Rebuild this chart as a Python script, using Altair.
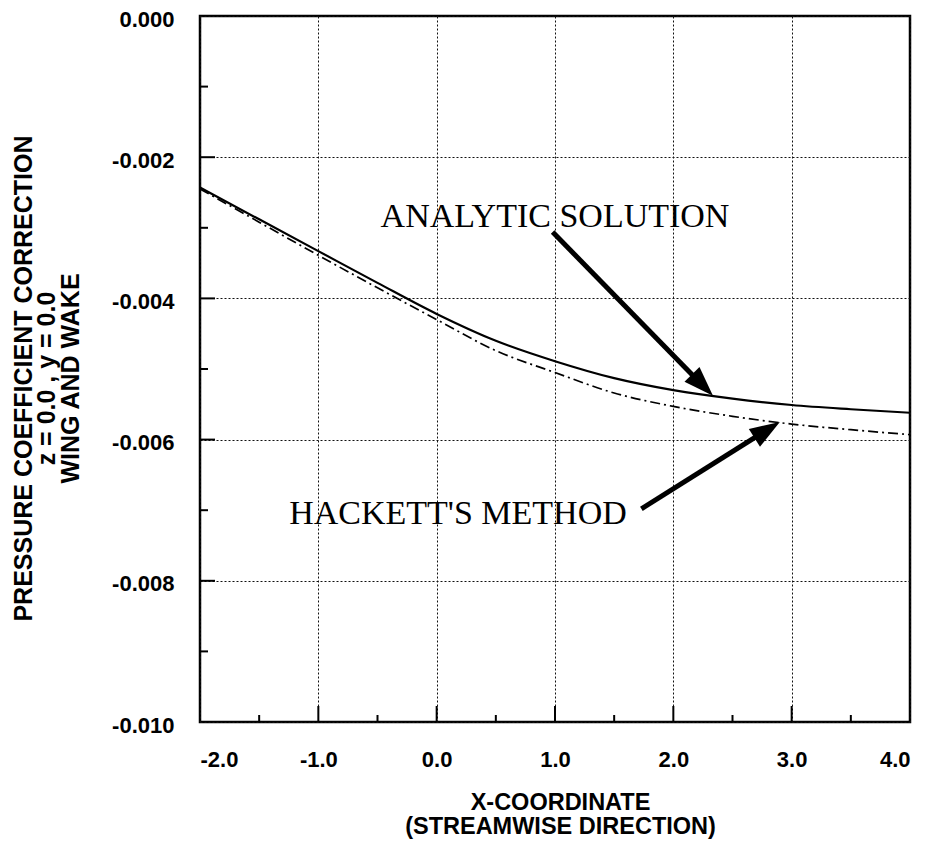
import altair as alt
import pandas as pd

# ---- data ----
x_vals = [-2.0, -1.5, -1.0, -0.5, 0.0, 0.5, 1.0, 1.5, 2.0, 2.5, 3.0, 3.5, 4.0]
analytic = [-0.00243, -0.00288, -0.00333, -0.00378, -0.00422, -0.00460, -0.00489,
            -0.00513, -0.00530, -0.00542, -0.00551, -0.00557, -0.00562]
hackett = [-0.00245, -0.00292, -0.00339, -0.00385, -0.00430, -0.00474, -0.00505,
           -0.00534, -0.00553, -0.00567, -0.00578, -0.00586, -0.00593]

x_major = [-2.0, -1.0, 0.0, 1.0, 2.0, 3.0, 4.0]
y_major = [0.0, -0.002, -0.004, -0.006, -0.008, -0.010]
x_tick_major = [-1.0, 0.0, 1.0, 2.0, 3.0]
x_tick_minor = [-1.5, -0.5, 0.5, 1.5, 2.5, 3.5]
y_tick_major = [-0.002, -0.004, -0.006, -0.008]
y_tick_minor = [-0.001, -0.003, -0.005, -0.007, -0.009]

x_title = ["X-COORDINATE", "(STREAMWISE DIRECTION)"]
y_title = ["PRESSURE COEFFICIENT CORRECTION", "z = 0.0 , y = 0.0", "WING AND WAKE"]

# annotations (data coordinates)
label_text = ["ANALYTIC SOLUTION", "HACKETT'S METHOD"]
label_x = [1.0, 0.18]
label_y = [-0.00299, -0.00719]
arrow_x1 = [0.98, 1.73]
arrow_y1 = [-0.00306, -0.00698]
arrow_x2 = [2.246, 2.793]
arrow_y2 = [-0.00523, -0.00586]
tip_x = [2.335, 2.90]
tip_y = [-0.00538, -0.00575]
tip_angle = [135.6, 57.9]

W, H = 710, 706
SANS = "Liberation Sans"
SERIF = "Liberation Serif"

xs = alt.Scale(domain=[-2, 4], nice=False, zero=False)
ys = alt.Scale(domain=[-0.010, 0.0], nice=False, zero=False)

df_a = pd.DataFrame({"x": x_vals, "y": analytic})
df_h = pd.DataFrame({"x": x_vals, "y": hackett})

x_axis = alt.Axis(
    values=x_major, grid=True, gridDash=[2, 2], gridColor="#111", gridWidth=1,
    ticks=False, domain=False, labelFont=SANS, labelFontSize=22, labelFontWeight="bold",
    labelColor="black", labelPadding=27,
    labelExpr="(datum.value < 0 ? '-' : '') + format(abs(datum.value), '.1f')",
    title=x_title, titleFont=SANS, titleFontSize=23.5, titleFontWeight="bold",
    titleColor="black", titleX=W / 2 + 5, titleY=80, titleBaseline="middle",
    titleLineHeight=24, titleAlign="center",
)
y_axis = alt.Axis(
    values=y_major, grid=True, gridDash=[2, 2], gridColor="#111", gridWidth=1,
    ticks=False, domain=False, labelFont=SANS, labelFontSize=22, labelFontWeight="bold",
    labelColor="black", labelPadding=26, labelOffset=3,
    labelExpr="(datum.value < 0 ? '-' : '') + format(abs(datum.value), '.3f')",
    title=y_title, titleFont=SANS, titleFontSize=25, titleFontWeight="bold",
    titleColor="black", titleAngle=270, titleX=-177, titleY=362,
    titleBaseline="middle", titleAlign="center", titleLineHeight=23.5,
)


def X(field):
    return alt.X(field, scale=xs, axis=x_axis)


def Y(field):
    return alt.Y(field, scale=ys, axis=y_axis)


line_a = alt.Chart(df_a).mark_line(color="black", strokeWidth=2.2, interpolate="monotone").encode(
    x=X("x:Q"), y=Y("y:Q"))
line_h = alt.Chart(df_h).mark_line(color="black", strokeWidth=1.7, strokeDash=[10, 4, 2, 4],
                                   interpolate="monotone").encode(x=X("x:Q"), y=Y("y:Q"))


# inward ticks
def xticks(vals, length, width):
    return alt.Chart(pd.DataFrame({"x": vals})).mark_rule(color="black", strokeWidth=width).encode(
        x=X("x:Q"), y=alt.value(H), y2=alt.value(H - length))


def yticks(vals, length, width):
    return alt.Chart(pd.DataFrame({"y": vals})).mark_rule(color="black", strokeWidth=width).encode(
        y=Y("y:Q"), x=alt.value(0), x2=alt.value(length))


tx1 = xticks(x_tick_major, 16, 2)
tx2 = xticks(x_tick_minor, 7, 2)
ty1 = yticks(y_tick_major, 15, 2)
ty2 = yticks(y_tick_minor, 8, 2)

df_lab = pd.DataFrame({"t": label_text, "x": label_x, "y": label_y})
labels = alt.Chart(df_lab).mark_text(font=SERIF, fontSize=34, color="black", align="center",
                                     baseline="alphabetic").encode(
    x=X("x:Q"), y=Y("y:Q"), text="t:N")

df_arr = pd.DataFrame({"x1": arrow_x1, "y1": arrow_y1, "x2": arrow_x2, "y2": arrow_y2,
                       "tx": tip_x, "ty": tip_y, "ang": tip_angle})
shafts = alt.Chart(df_arr).mark_rule(color="black", strokeWidth=5, strokeCap="butt").encode(
    x=X("x1:Q"), y=Y("y1:Q"), x2="x2:Q", y2="y2:Q")
heads = alt.Chart(df_arr).mark_point(shape="M0,0L0.7,2L-0.7,2Z", filled=True, color="black",
                                     opacity=1, size=900, strokeWidth=0).encode(
    x=X("tx:Q"), y=Y("ty:Q"), angle=alt.Angle("ang:Q", scale=None))

chart = alt.layer(line_a, line_h, tx1, tx2, ty1, ty2, shafts, heads, labels).properties(
    width=W, height=H,
    autosize=alt.AutoSizeParams(type="none"),
    padding={"left": 192, "top": 8, "right": 19, "bottom": 120},
    background="white",
).configure_view(stroke="black", strokeWidth=2.5)

chart.save("out.html", embed_options={"renderer": "svg", "actions": False})
